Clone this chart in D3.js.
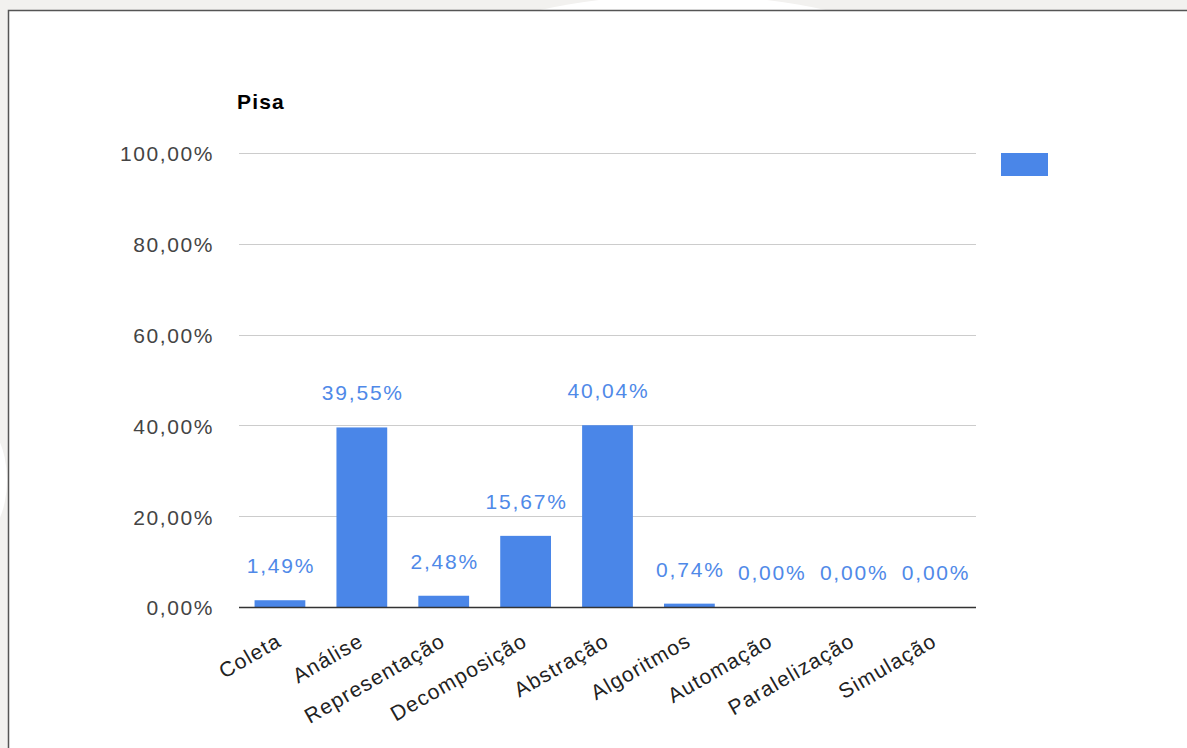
<!DOCTYPE html>
<html>
<head>
<meta charset="utf-8">
<script src="https://cdn.jsdelivr.net/npm/d3@7/dist/d3.min.js"></script>
<style>
  html, body { margin: 0; padding: 0; background: #f2f1ef; }
  svg { display: block; font-family: "Liberation Sans", Arial, sans-serif; }
</style>
</head>
<body>
<svg id="chart" width="1187" height="748"></svg>
<script>
const categories = ["Coleta", "Análise", "Representação", "Decomposição", "Abstração", "Algoritmos", "Automação", "Paralelização", "Simulação"];
const values = [1.49, 39.55, 2.48, 15.67, 40.04, 0.74, 0.00, 0.00, 0.00];
const yTicks = [0, 20, 40, 60, 80, 100];
const title = "Pisa";

const svg = d3.select("#chart");
const W = 1187, H = 748;

// background decorations
svg.append("rect").attr("width", W).attr("height", H).attr("fill", "#f2f1ef");
svg.append("ellipse").attr("cx", 683).attr("cy", 120).attr("rx", 300).attr("ry", 125).attr("fill", "#ffffff");
svg.append("ellipse").attr("cx", -25).attr("cy", 480).attr("rx", 32).attr("ry", 60).attr("fill", "#ffffff");

// panel
svg.append("rect").attr("x", 8.5).attr("y", 10.5).attr("width", W).attr("height", H)
  .attr("fill", "#ffffff").attr("stroke", "#555").attr("stroke-width", 1.5);

const plot = { left: 239, right: 976, top: 153, bottom: 607 };

const x = d3.scaleBand().domain(categories).range([plot.left, plot.right]).paddingInner(0.38).paddingOuter(0.19);
const y = d3.scaleLinear().domain([0, 100]).range([plot.bottom, plot.top]);

const fmt = v => d3.format(".2f")(v).replace(".", ",") + "%";

// gridlines
svg.append("g").selectAll("line").data(yTicks.filter(t => t > 0)).join("line")
  .attr("x1", plot.left).attr("x2", plot.right)
  .attr("y1", d => Math.round(y(d)) + 0.5).attr("y2", d => Math.round(y(d)) + 0.5)
  .attr("stroke", "#cccccc").attr("stroke-width", 1);

// y axis labels
const yAxis = d3.axisLeft(y).tickValues(yTicks).tickSize(0).tickPadding(0).tickFormat(fmt);
const ya = svg.append("g").attr("transform", `translate(214,0)`).call(yAxis);
ya.select(".domain").remove();
ya.selectAll("text").attr("fill", "#444").attr("font-size", 21).attr("letter-spacing", "1.6px")
  .attr("dy", "0.38em").attr("font-family", "Liberation Sans, Arial, sans-serif");

// bars
svg.append("g").selectAll("rect").data(values).join("rect")
  .attr("x", (d, i) => x(categories[i]))
  .attr("width", x.bandwidth())
  .attr("y", d => y(d))
  .attr("height", d => plot.bottom - y(d))
  .attr("fill", "#4a86e8");

// baseline
svg.append("line").attr("x1", plot.left).attr("x2", plot.right)
  .attr("y1", plot.bottom + 0.5).attr("y2", plot.bottom + 0.5)
  .attr("stroke", "#333").attr("stroke-width", 1.5);

// data labels
svg.append("g").selectAll("text").data(values).join("text")
  .attr("x", (d, i) => x(categories[i]) + x.bandwidth() / 2 + 1)
  .attr("y", d => y(d) - 27)
  .attr("text-anchor", "middle")
  .attr("fill", "#4f89e8")
  .attr("font-size", 21).attr("letter-spacing", "1.8px")
  .text(d => fmt(d));

// category labels
const xAxis = d3.axisBottom(x).tickSize(0).tickPadding(0);
const xa = svg.append("g").attr("transform", `translate(0,${plot.bottom})`).call(xAxis);
xa.select(".domain").remove();
xa.selectAll(".tick text")
  .attr("fill", "#222").attr("font-size", 21).attr("letter-spacing", "1.2px")
  .attr("font-family", "Liberation Sans, Arial, sans-serif")
  .attr("text-anchor", "end")
  .attr("x", 3).attr("y", 38).attr("dy", 0)
  .attr("transform", "rotate(-30, 3, 38)");

// title
svg.append("text").attr("x", 237).attr("y", 109).attr("font-size", 21).attr("font-weight", "bold")
  .attr("letter-spacing", "1.2px").attr("fill", "#000").text(title);

// legend swatch
svg.append("rect").attr("x", 1001).attr("y", 153).attr("width", 47).attr("height", 23).attr("fill", "#4a86e8");
</script>
</body>
</html>
